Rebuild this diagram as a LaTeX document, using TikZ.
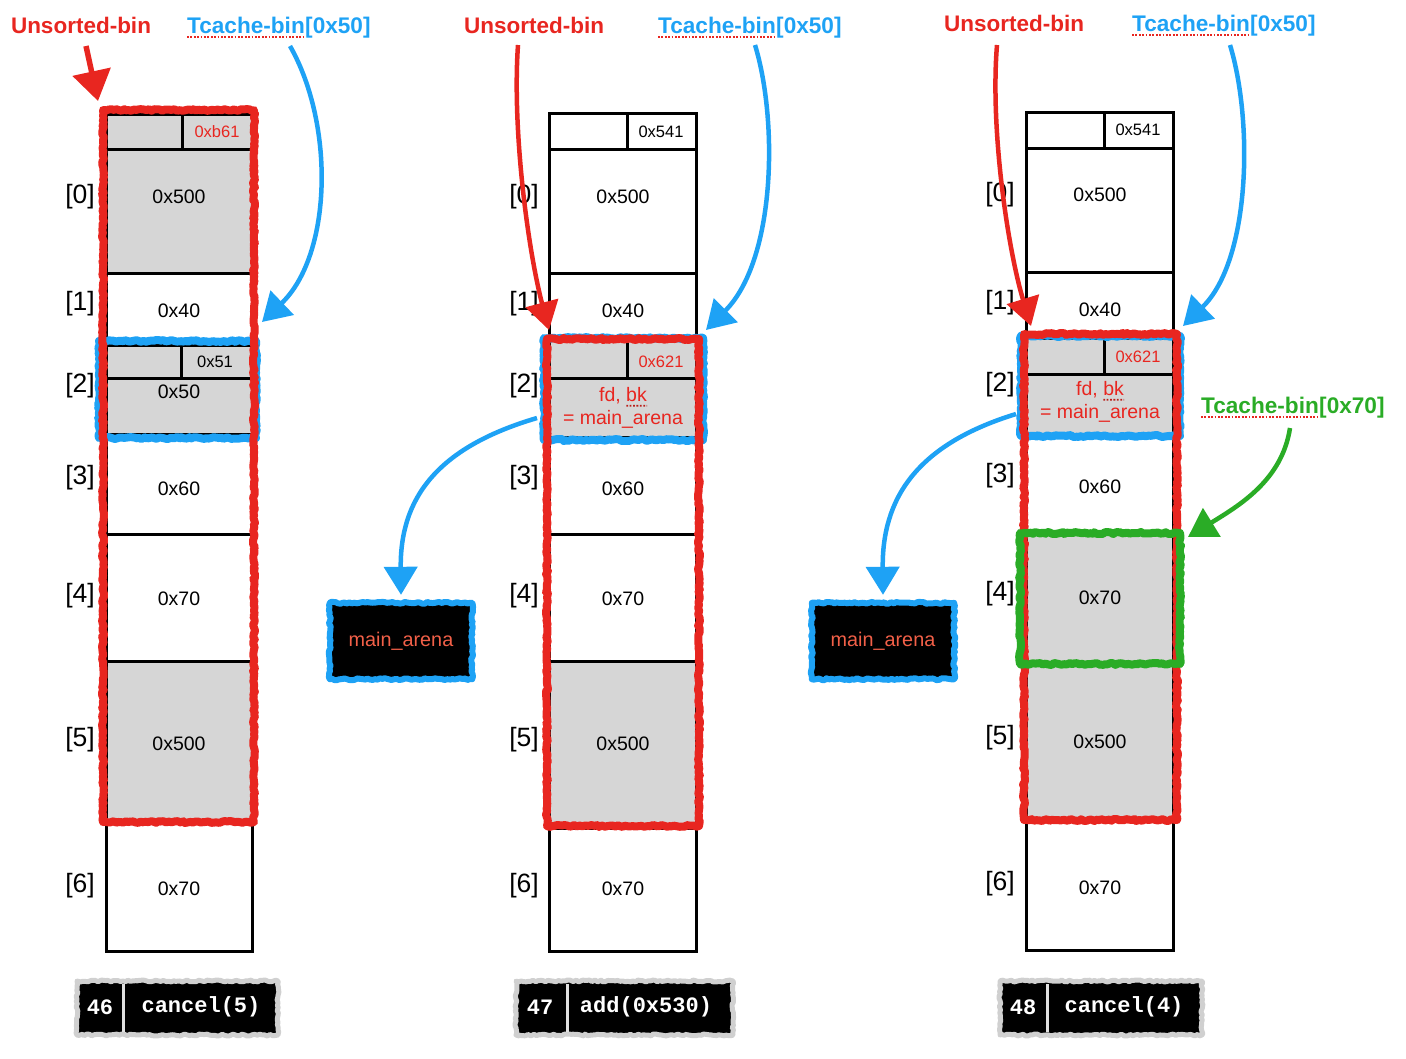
\documentclass[tikz,border=0pt]{standalone}
\usepackage{fontspec}
\setmainfont{Liberation Sans}
\setmonofont{Liberation Mono}
\usetikzlibrary{arrows.meta,decorations.pathmorphing,calc}
\definecolor{cred}{RGB}{232,38,32}
\definecolor{cblue}{RGB}{30,162,245}
\definecolor{cgreen}{RGB}{42,172,38}
\definecolor{cgray}{RGB}{214,214,214}
\definecolor{salmon}{RGB}{242,96,72}
\definecolor{cframe}{RGB}{208,208,208}
\definecolor{cdiv}{RGB}{225,225,225}
\begin{document}
\begin{tikzpicture}[x=1pt,y=-1pt,
  cell/.style={line width=3pt, draw=black},
  val/.style={font=\fontsize{19.5}{22}\selectfont, inner sep=0pt},
  small/.style={font=\fontsize{16.5}{19}\selectfont, inner sep=0pt},
  idx/.style={font=\fontsize{26.5}{30}\selectfont, inner sep=0pt},
  crayon/.style={line width=#1, decorate, decoration={random steps,segment length=2.5pt,amplitude=1pt}, line join=round},
  crayon/.default=8pt,
  arr/.style={line width=4.5pt, -{Triangle[length=28pt,width=33pt]}},
  ttl/.style={font=\fontsize{22.5}{26}\selectfont\bfseries, inner sep=0pt},
  tch/.style={font=\fontsize{22.6}{26}\selectfont\bfseries, inner sep=0pt},
  spell/.style={cred, line width=1.8pt, dash pattern=on 1.8pt off 1.6pt},
  arena/.style={fill=black, inner sep=0pt, minimum width=142pt, minimum height=76pt, text=salmon, font=\fontsize{19.8}{22}\selectfont},
  cmd/.style={font=\ttfamily\bfseries\fontsize{22}{24}\selectfont, text=white, inner sep=0pt},
]
\useasboundingbox (0,0) rectangle (1406,1058);

%================ Column 1 =================
\fill[cgray] (106,114) rectangle (252,273);
\fill[cgray] (106,345) rectangle (252,434);
\fill[cgray] (106,661) rectangle (252,822);
\draw[cell] (106,114) rectangle (252,951);
\foreach \yy in {149,273,345,378,434,534,661,822} \draw[cell] (106,\yy) -- (252,\yy);
\draw[cell] (182,114) -- (182,149);
\draw[cell] (181,345) -- (181,378);

\node[small, text=cred] (a-h) at (217,132) {0xb61};
\node[val] (a0) at (179,197) {0x500};
\node[val] (a1) at (179,311) {0x40};
\node[small] (a2h) at (215,362) {0x51};
\node[val] (a2) at (179,392) {0x50};
\node[val] (a3) at (179,489) {0x60};
\node[val] (a4) at (179,599) {0x70};
\node[val] (a5) at (179,744) {0x500};
\node[val] (a6) at (179,889) {0x70};

\node[idx] (ai0) at (80,197) {[0]};
\node[idx] (ai1) at (80,304) {[1]};
\node[idx] (ai2) at (80,386) {[2]};
\node[idx] (ai3) at (80,478) {[3]};
\node[idx] (ai4) at (80,596) {[4]};
\node[idx] (ai5) at (80,740) {[5]};
\node[idx] (ai6) at (80,886) {[6]};

\draw[crayon, cblue] (99,341) rectangle (256,438);
\draw[crayon, cred] (103,110) rectangle (254,822);

%================ Column 2 =================
\fill[cgray] (549,340) rectangle (696,437);
\fill[cgray] (549,661) rectangle (696,828);
\draw[cell] (549,113) rectangle (696,951);
\foreach \yy in {149,273,340,378,437,534,661,828} \draw[cell] (549,\yy) -- (696,\yy);
\draw[cell] (627,113) -- (627,149);
\draw[cell] (627,340) -- (627,378);

\node[small] (b-h) at (661,132) {0x541};
\node[val] (b0) at (623,197) {0x500};
\node[val] (b1) at (623,311) {0x40};
\node[small, text=cred] (b2h) at (661,362) {0x621};
\node[val, text=cred] (b2a) at (623,396) {fd, bk};
\node[val, text=cred] (b2b) at (623,419) {= main\_arena};
\node[val] (b3) at (623,489) {0x60};
\node[val] (b4) at (623,599) {0x70};
\node[val] (b5) at (623,744) {0x500};
\node[val] (b6) at (623,889) {0x70};
\path ($(b2a.base west)!0.568!(b2a.base east)$) coordinate (bbk);
\draw[spell, cred!80!black] ([yshift=-4pt]bbk) -- ([yshift=-4pt]b2a.base east);

\node[idx] (bi0) at (524,197) {[0]};
\node[idx] (bi1) at (524,304) {[1]};
\node[idx] (bi2) at (524,386) {[2]};
\node[idx] (bi3) at (524,478) {[3]};
\node[idx] (bi4) at (524,596) {[4]};
\node[idx] (bi5) at (524,740) {[5]};
\node[idx] (bi6) at (524,886) {[6]};

\draw[crayon, cblue] (544,338) rectangle (703,440);
\draw[crayon, cred] (547,339) rectangle (699,826);

\node[arena] (ma2) at (401,641) {main\_arena};
\draw[crayon=6pt, cblue] (ma2.north west) rectangle (ma2.south east);

%================ Column 3 =================
\fill[cgray] (1026,338) rectangle (1173,436);
\fill[cgray] (1026,532) rectangle (1173,820);
\draw[cell] (1026,112) rectangle (1173,950);
\foreach \yy in {148,272,338,374,436,532,662,820} \draw[cell] (1026,\yy) -- (1173,\yy);
\draw[cell] (1104,112) -- (1104,148);
\draw[cell] (1104,338) -- (1104,374);

\node[small] (c-h) at (1138,130) {0x541};
\node[val] (c0) at (1100,195) {0x500};
\node[val] (c1) at (1100,310) {0x40};
\node[small, text=cred] (c2h) at (1138,357) {0x621};
\node[val, text=cred] (c2a) at (1100,390) {fd, bk};
\node[val, text=cred] (c2b) at (1100,413) {= main\_arena};
\node[val] (c3) at (1100,487) {0x60};
\node[val] (c4) at (1100,598) {0x70};
\node[val] (c5) at (1100,742) {0x500};
\node[val] (c6) at (1100,888) {0x70};
\path ($(c2a.base west)!0.568!(c2a.base east)$) coordinate (cbk);
\draw[spell, cred!80!black] ([yshift=-4pt]cbk) -- ([yshift=-4pt]c2a.base east);

\node[idx] (ci0) at (1000,195) {[0]};
\node[idx] (ci1) at (1000,303) {[1]};
\node[idx] (ci2) at (1000,385) {[2]};
\node[idx] (ci3) at (1000,476) {[3]};
\node[idx] (ci4) at (1000,594) {[4]};
\node[idx] (ci5) at (1000,738) {[5]};
\node[idx] (ci6) at (1000,884) {[6]};

\draw[crayon, cblue] (1021,336) rectangle (1180,436);
\draw[crayon, cred] (1024,334) rectangle (1177,820);
\draw[crayon, cgreen] (1020,533) rectangle (1180,664);

\node[arena] (ma3) at (883,641) {main\_arena};
\draw[crayon=6pt, cblue] (ma3.north west) rectangle (ma3.south east);

%================ Titles =================
\node[ttl, text=cred, anchor=base] (u1) at (81,33) {Unsorted-bin};
\node[ttl, text=cred, anchor=base] (u2) at (534,33) {Unsorted-bin};
\node[ttl, text=cred, anchor=base] (u3) at (1014,31) {Unsorted-bin};

\node[tch, text=cblue, anchor=base west] (t1a) at (187,33) {Tcache-bin};
\node[tch, text=cblue, anchor=base west] (t1b) at (t1a.base east) {[0x50]};
\draw[spell] ([yshift=-4pt]t1a.base west) -- ([yshift=-4pt]t1a.base east);
\node[tch, text=cblue, anchor=base west] (t2a) at (658,33) {Tcache-bin};
\node[tch, text=cblue, anchor=base west] (t2b) at (t2a.base east) {[0x50]};
\draw[spell] ([yshift=-4pt]t2a.base west) -- ([yshift=-4pt]t2a.base east);
\node[tch, text=cblue, anchor=base west] (t3a) at (1132,31) {Tcache-bin};
\node[tch, text=cblue, anchor=base west] (t3b) at (t3a.base east) {[0x50]};
\draw[spell] ([yshift=-4pt]t3a.base west) -- ([yshift=-4pt]t3a.base east);
\node[tch, text=cgreen, anchor=base west] (g1a) at (1201,413) {Tcache-bin};
\node[tch, text=cgreen, anchor=base west] (g1b) at (g1a.base east) {[0x70]};
\draw[spell] ([yshift=-4pt]g1a.base west) -- ([yshift=-4pt]g1a.base east);

%================ Arrows =================
\coordinate (r1s) at (86,46);   \coordinate (r1e) at (98,101);
\coordinate (b1s) at (290,46);  \coordinate (b1e) at (262,322);
\coordinate (r2s) at (518,45);  \coordinate (r2e) at (549,330);
\coordinate (b2s) at (755,45);  \coordinate (b2e) at (706,330);
\coordinate (m2s) at (537,418);
\coordinate (r3s) at (997,45);  \coordinate (r3e) at (1031,326);
\coordinate (b3s) at (1230,45); \coordinate (b3e) at (1183,326);
\coordinate (m3s) at (1016,414);
\coordinate (g3s) at (1290,428); \coordinate (g3e) at (1188,537);

\draw[cred, line width=5.5pt, -{Triangle[length=30pt,width=38pt]}] (r1s) -- (r1e);
\draw[arr, cblue] (b1s) .. controls (335,125) and (332,255) .. (b1e);
\draw[arr, cred] (r2s) .. controls (512,130) and (528,250) .. (r2e);
\draw[arr, cblue] (b2s) .. controls (778,120) and (776,260) .. (b2e);
\draw[arr, cblue] (m2s) .. controls (435,448) and (400,500) .. ([yshift=8pt]ma2.north);
\draw[arr, cred] (r3s) .. controls (990,130) and (1008,250) .. (r3e);
\draw[arr, cblue] (b3s) .. controls (1253,120) and (1251,260) .. (b3e);
\draw[arr, cblue] (m3s) .. controls (915,445) and (882,500) .. ([yshift=8pt]ma3.north);
\draw[arr, cgreen] (g3s) .. controls (1282,480) and (1240,505) .. (g3e);

%================ Bottom step labels =================
\fill[black] (77,981) rectangle (278,1035);
\draw[crayon=5pt, cframe] (77,981) rectangle (278,1035);
\draw[line width=3pt, cdiv] (123,984) -- (123,1032);
\node[cmd] (s1n) at (100,1007) {46};
\node[cmd] (s1c) at (201,1007) {cancel(5)};

\fill[black] (516,981) rectangle (733,1035);
\draw[crayon=5pt, cframe] (516,981) rectangle (733,1035);
\draw[line width=3pt, cdiv] (567,984) -- (567,1032);
\node[cmd] (s2n) at (540,1007) {47};
\node[cmd] (s2c) at (646,1007) {add(0x530)};

\fill[black] (1000,981) rectangle (1202,1035);
\draw[crayon=5pt, cframe] (1000,981) rectangle (1202,1035);
\draw[line width=3pt, cdiv] (1047,984) -- (1047,1032);
\node[cmd] (s3n) at (1023,1007) {48};
\node[cmd] (s3c) at (1124,1007) {cancel(4)};
\end{tikzpicture}
\end{document}
